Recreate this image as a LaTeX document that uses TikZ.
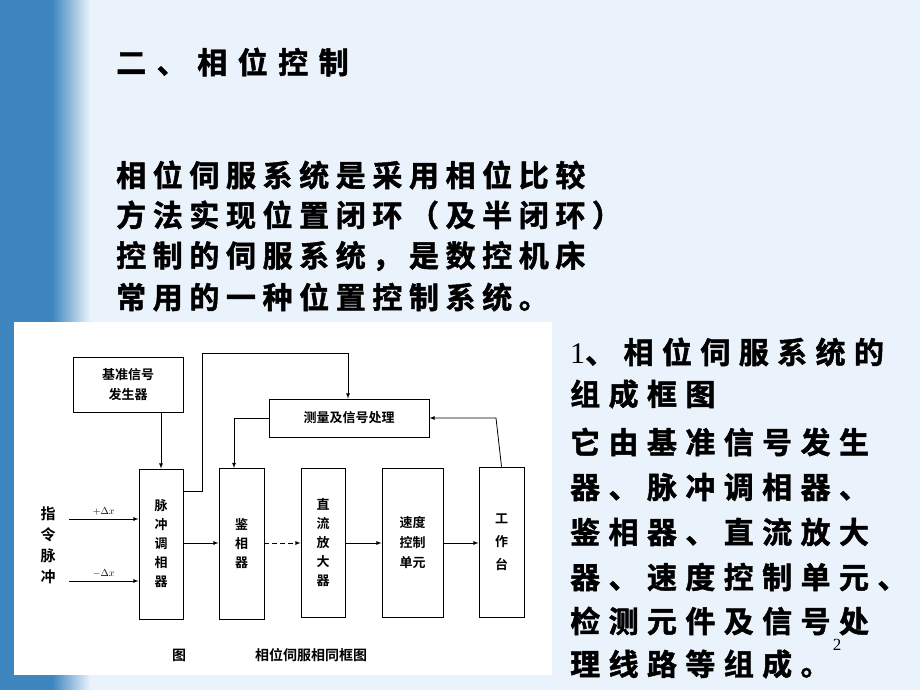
\documentclass[tikz,border=0pt]{standalone}
\usepackage{fontspec}
\newfontfamily\cjk{Noto Sans CJK SC}[BoldFont={Noto Sans CJK SC Bold}]
\newfontfamily\cjkls{Noto Sans CJK SC Bold}[LetterSpace=22,FakeBold=1.5]
\newfontfamily\cjklt{Noto Sans CJK SC Bold}[LetterSpace=28,FakeBold=1.5]
\newfontfamily\cjkti{Noto Sans CJK SC Bold}[LetterSpace=35,FakeBold=1.5]
\begin{document}
\begin{tikzpicture}[x=1pt,y=-1pt,
  blk/.style={draw,line width=0.9pt,inner sep=0pt,font=\cjk\bfseries\fontsize{13}{17}\selectfont,align=center},
  arr/.style={->,>=latex,line width=0.8pt},
  big/.style={anchor=west,inner sep=0pt,font=\cjkls\fontsize{30}{30}\selectfont},
  bigr/.style={anchor=west,inner sep=0pt,font=\cjklt\fontsize{30}{30}\selectfont}]
\definecolor{bgl}{HTML}{EAF2FB}\definecolor{bgb}{HTML}{3E86BF}
\useasboundingbox (0,0) rectangle (920,690);
\fill[bgl] (0,0) rectangle (920,690);
\fill[bgb] (0,0) rectangle (52,690);
\shade[left color=bgb,right color=bgl] (52,0) rectangle (90,690);
\fill[white] (14,322) rectangle (552,675);
% text
\node[bigr,font=\cjkti\fontsize{30}{30}\selectfont] (t) at (116,62) {二、相位控制};
\node[big] (p1) at (116,175) {相位伺服系统是采用相位比较};
\node[big] (p2) at (116,215) {方法实现位置闭环（及半闭环）};
\node[big] (p3) at (116,256) {控制的伺服系统，是数控机床};
\node[big] (p4) at (116,297) {常用的一种位置控制系统。};
\node[bigr] (r1) at (570,352) {{\fontspec{Liberation Serif}\fontsize{30}{30}\selectfont 1}、相位伺服系统的};
\node[bigr] (r2) at (570,394) {组成框图};
\node[bigr] (r3) at (570,442) {它由基准信号发生};
\node[bigr] (r4) at (570,487) {器、脉冲调相器、};
\node[bigr] (r5) at (570,532) {鉴相器、直流放大};
\node[bigr] (r6) at (570,577) {器、速度控制单元、};
\node[bigr] (r7) at (570,621) {检测元件及信号处};
\node[bigr] (r8) at (570,664) {理线路等组成。};
\node[font=\fontspec{Liberation Serif}\fontsize{17}{17}\selectfont] (pg) at (837,645) {2};
% diagram
\node[blk,minimum width=110,minimum height=55] (ref) at (128,384.5) {基准信号\\[3pt]发生器};
\node[blk,minimum width=44,minimum height=150] (mod) at (161,544) {脉\\[2pt]冲\\[2pt]调\\[2pt]相\\[2pt]器};
\node[blk,minimum width=45,minimum height=151] (pd) at (241.5,543.5) {鉴\\[2pt]相\\[2pt]器};
\node[blk,minimum width=44,minimum height=149] (dc) at (323,542.5) {直\\[2pt]流\\[2pt]放\\[2pt]大\\[2pt]器};
\node[blk,minimum width=61,minimum height=149] (spd) at (412.5,542.5) {速度\\[3pt]控制\\[3pt]单元};
\node[blk,minimum width=45,minimum height=150] (tab) at (501.5,542) {工\\[6pt]作\\[6pt]台};
\node[blk,minimum width=160,minimum height=38] (meas) at (349,418) {测量及信号处理};
\node[font=\cjk\bfseries\fontsize{15}{21}\selectfont,align=center] (cmd) at (48,545) {指\\令\\脉\\冲};
\coordinate (i1) at (69,519); \coordinate (i2) at (69,581);
\draw[arr] (i1) -- (i1-|mod.west) node[midway,above,font=\fontsize{10}{10}\selectfont] {$+\Delta x$};
\draw[arr] (i2) -- (i2-|mod.west) node[midway,above,font=\fontsize{10}{10}\selectfont] {$-\Delta x$};
\draw[arr] (ref.south-|mod) -- (mod.north);
\draw[arr] (mod.east|-0,543) -- (pd.west|-0,543);
\draw[arr,dashed,dash pattern=on 5pt off 3pt] (pd.east|-0,543) -- (dc.west|-0,543);
\draw[arr] (dc.east|-0,543) -- (spd.west|-0,543);
\draw[arr] (spd.east|-0,543) -- (tab.west|-0,543);
\draw[arr] (tab.north) -- (496,418) -- (meas.east);
\draw[arr] (meas.west) -- (234,418) -- (234,468);
\draw[arr] (mod.east|-0,491) -- (202,491) -- (202,353) -- (348,353) -- (meas.north-|348,0);
\node[font=\cjk\bfseries\fontsize{14}{14}\selectfont] (c1) at (179,655) {图};
\node[font=\cjk\bfseries\fontsize{14}{14}\selectfont] (c2) at (311,655) {相位伺服相同框图};
\end{tikzpicture}
\end{document}
